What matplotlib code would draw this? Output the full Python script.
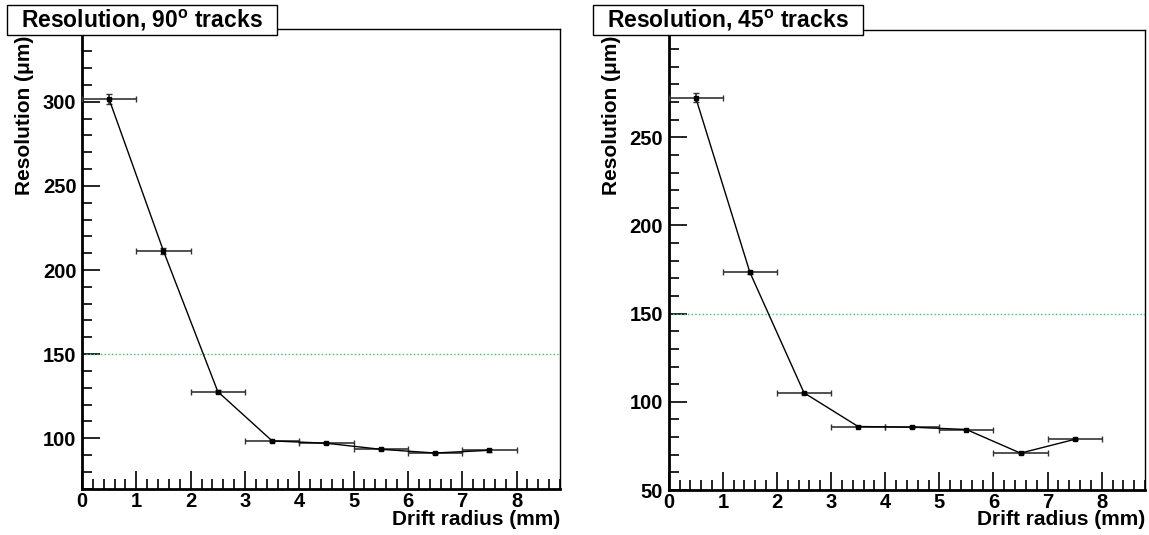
import matplotlib
matplotlib.use('Agg')
import matplotlib.pyplot as plt
from matplotlib.patches import Rectangle
from matplotlib.ticker import MultipleLocator

plt.rcParams['font.family'] = ['Liberation Sans', 'DejaVu Sans']
plt.rcParams['font.weight'] = 'bold'
plt.rcParams['mathtext.fontset'] = 'custom'
plt.rcParams['mathtext.rm'] = 'Liberation Sans:bold'
plt.rcParams['mathtext.bf'] = 'Liberation Sans:bold'

W, H = 1149, 535

# drift radius bins (centres and half widths)
radius = [0.5, 1.5, 2.5, 3.5, 4.5, 5.5, 6.5, 7.5]
radius_err = [0.5, 0.5, 0.5, 0.5, 0.5, 0.5, 0.5, 0.5]

# resolution in micrometres
res_90 = [301.5, 211.3, 127.7, 98.4, 97.0, 93.4, 91.2, 92.8]
res_90_err = [3.0, 1.8, 1.0, 0.6, 0.6, 0.6, 0.6, 1.0]
res_45 = [272.4, 173.4, 105.1, 86.0, 85.6, 84.3, 70.9, 78.7]
res_45_err = [2.4, 1.0, 0.6, 0.5, 0.5, 0.5, 0.5, 0.6]

target = 150

panels = [
    {'title': r'Resolution, 90$^{\rm o}$ tracks', 'y': res_90, 'yerr': res_90_err,
     'pos': [82 / W, 1 - 489 / H, 478 / W, 460 / H], 'ylim': (69.8, 343.3),
     'yticks': [100, 150, 200, 250, 300], 'box': (7, 277), 'ylab_x': 25},
    {'title': r'Resolution, 45$^{\rm o}$ tracks', 'y': res_45, 'yerr': res_45_err,
     'pos': [668.7 / W, 1 - 490 / H, 476.3 / W, 460 / H], 'ylim': (50, 310.8),
     'yticks': [50, 100, 150, 200, 250], 'box': (593, 863), 'ylab_x': 611.7},
]

fig = plt.figure(figsize=(W / 100, H / 100), dpi=100)

for p in panels:
    ax = fig.add_axes(p['pos'])
    ax.errorbar(radius, p['y'], xerr=radius_err, yerr=p['yerr'], fmt='none',
                ecolor='#333333', elinewidth=1.2, capsize=2.5, capthick=1.0, zorder=3)
    ax.plot(radius, p['y'], color='black', linewidth=1.0, marker='s', markersize=2.5, zorder=4)
    ax.axhline(target, color='#2ecc71', linestyle=':', linewidth=1.0, zorder=2)

    ax.set_xlim(0, 8.8)
    ax.set_ylim(*p['ylim'])
    ax.xaxis.set_major_locator(MultipleLocator(1))
    ax.xaxis.set_minor_locator(MultipleLocator(0.2))
    ax.set_yticks(p['yticks'])
    ax.yaxis.set_minor_locator(MultipleLocator(10))
    ax.tick_params(which='both', direction='in', top=False, right=False, width=1.2,
                   labelsize=14.5)
    ax.tick_params(axis='x', pad=2)
    ax.tick_params(axis='y', pad=4)
    ax.tick_params(which='major', length=13)
    ax.tick_params(which='minor', length=7)
    for lab in ax.get_xticklabels() + ax.get_yticklabels():
        lab.set_fontweight('bold')
    ax.spines['left'].set_linewidth(2)
    ax.spines['bottom'].set_linewidth(2)
    ax.spines['top'].set_linewidth(1)
    ax.spines['right'].set_linewidth(1)

    fig.text(p['ylab_x'] / W, 1 - 36 / H, 'Resolution (\u03bcm)',
             rotation=90, ha='center', va='top', fontsize=15, fontweight='bold')
    fig.text(p['pos'][0] + p['pos'][2], 1 - 525 / H, 'Drift radius (mm)',
             ha='right', va='baseline', fontsize=15, fontweight='bold')

    x0, x1 = p['box']
    fig.patches.append(Rectangle((x0 / W, 1 - 35 / H), (x1 - x0) / W, 30 / H,
                                 transform=fig.transFigure, facecolor='white',
                                 edgecolor='black', linewidth=1))
    fig.text((x0 + x1) / 2 / W, 1 - 20 / H, p['title'], ha='center', va='center',
             fontsize=16.5, fontweight='bold')

fig.savefig('out.png', dpi=100)
